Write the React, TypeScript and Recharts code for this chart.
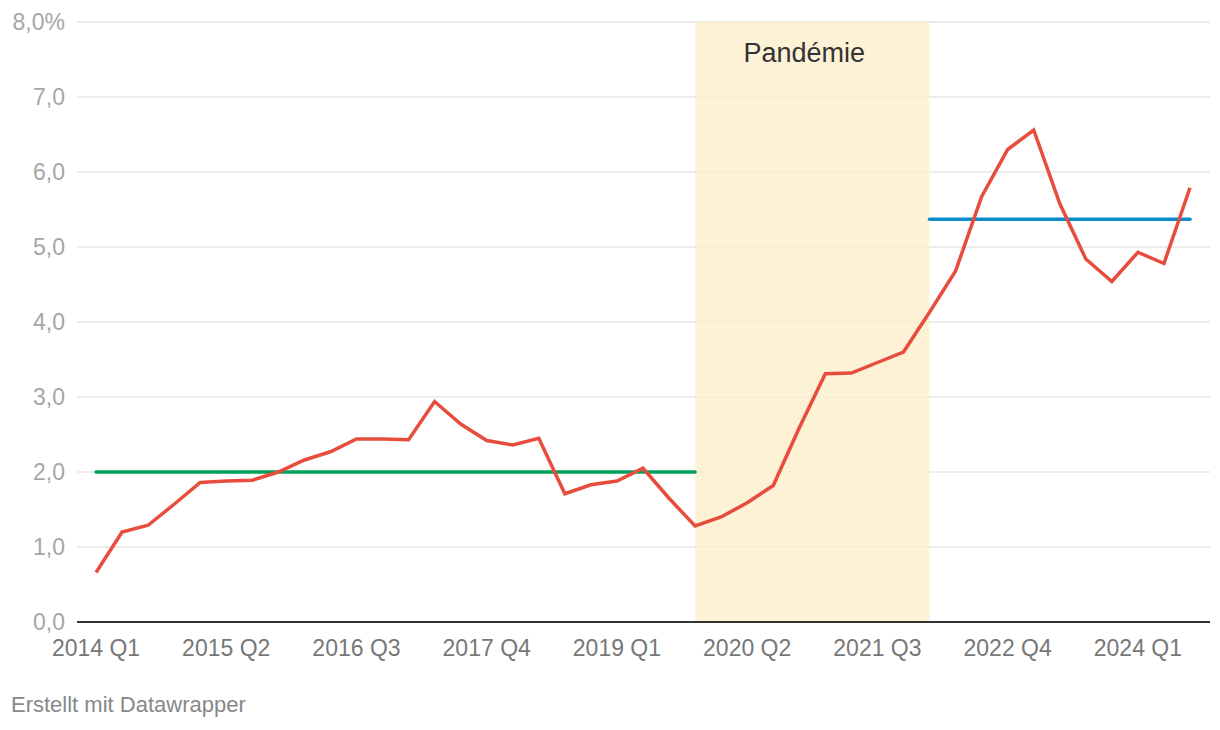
import React from 'react';
import {
  LineChart,
  Line,
  XAxis,
  YAxis,
  CartesianGrid,
  ReferenceArea,
  ReferenceLine,
} from 'recharts';

// quarters 2014 Q1 .. 2024 Q3
const years = [2014, 2015, 2016, 2017, 2018, 2019, 2020, 2021, 2022, 2023, 2024];
const quarters = ['Q1', 'Q2', 'Q3', 'Q4'];
const categories: string[] = years
  .flatMap(y => quarters.map(q => `${y} ${q}`))
  .slice(0, 43);

// rate in %
const rate = [
  0.66, 1.2, 1.29, 1.57, 1.86, 1.88, 1.89, 2.0, 2.16, 2.27,
  2.44, 2.44, 2.43, 2.94, 2.64, 2.42, 2.36, 2.45, 1.71, 1.83,
  1.88, 2.05, 1.65, 1.28, 1.4, 1.59, 1.82, 2.59, 3.31, 3.32,
  3.46, 3.6, 4.13, 4.68, 5.67, 6.3, 6.56, 5.58, 4.84, 4.54,
  4.93, 4.78, 5.79,
];

const yTicks = [0, 1, 2, 3, 4, 5, 6, 7, 8];

const pandemic = { from: '2019 Q4', to: '2022 Q1', label: 'Pandémie' };
const avgBefore = { from: '2014 Q1', to: '2019 Q4', value: 2.0 };
const avgAfter = { from: '2022 Q1', to: '2024 Q3', value: 5.37 };

const data = categories.map((q, i) => ({ q, rate: rate[i] }));

const FONT = '"Liberation Sans", Arial, Helvetica, sans-serif';

const fmtY = (v: number) => (v === 8 ? '8,0%' : v.toFixed(1).replace('.', ','));

const BandLabel = (props: any) => {
  const vb = props.viewBox || {};
  return (
    <text
      x={vb.x + vb.width / 2 - 8}
      y={vb.y + 40}
      textAnchor="middle"
      fill="#333"
      fontSize={27}
      fontFamily={FONT}
    >
      {pandemic.label}
    </text>
  );
};

export default function App() {
  return (
    <div style={{ position: 'relative', width: 1220, height: 730, margin: -8, background: '#fff', fontFamily: FONT }}>
      <div style={{ position: 'absolute', left: 0, top: 0 }}>
        <LineChart width={1220} height={680} data={data} margin={{ top: 22, right: 10, left: 0, bottom: 18 }}>
          <ReferenceArea
            x1={pandemic.from}
            x2={pandemic.to}
            y1={0}
            y2={8}
            fill="#fdedcc"
            fillOpacity={0.8}
            stroke="none"
            ifOverflow="visible"
            label={<BandLabel />}
          />
          <CartesianGrid vertical={false} stroke="#e6e6e6" strokeWidth={1.5} />
          <XAxis
            dataKey="q"
            interval={4}
            padding={{ left: 19, right: 20 }}
            height={40}
            tickLine={false}
            tickMargin={12}
            axisLine={{ stroke: '#333', strokeWidth: 2 }}
            tick={{ fill: '#777', fontSize: 23, fontFamily: FONT }}
          />
          <YAxis
            domain={[0, 8]}
            ticks={yTicks}
            width={77}
            axisLine={false}
            tickLine={false}
            tickMargin={6}
            tickFormatter={fmtY}
            tick={{ fill: '#a6a6a6', fontSize: 23, fontFamily: FONT }}
          />
          <ReferenceLine
            segment={[
              { x: avgBefore.from, y: avgBefore.value },
              { x: avgBefore.to, y: avgBefore.value },
            ]}
            stroke="#00a25b"
            strokeWidth={3.5}
            strokeLinecap="round"
          />
          <ReferenceLine
            segment={[
              { x: avgAfter.from, y: avgAfter.value },
              { x: avgAfter.to, y: avgAfter.value },
            ]}
            stroke="#0b8ccd"
            strokeWidth={3.5}
            strokeLinecap="round"
          />
          <Line
            type="linear"
            dataKey="rate"
            stroke="#e84c3d"
            strokeWidth={3.5}
            dot={false}
            activeDot={false}
            isAnimationActive={false}
          />
        </LineChart>
      </div>
      <div style={{ position: 'absolute', left: 11, top: 692, fontSize: 22, color: '#888', fontFamily: FONT }}>
        Erstellt mit Datawrapper
      </div>
    </div>
  );
}
